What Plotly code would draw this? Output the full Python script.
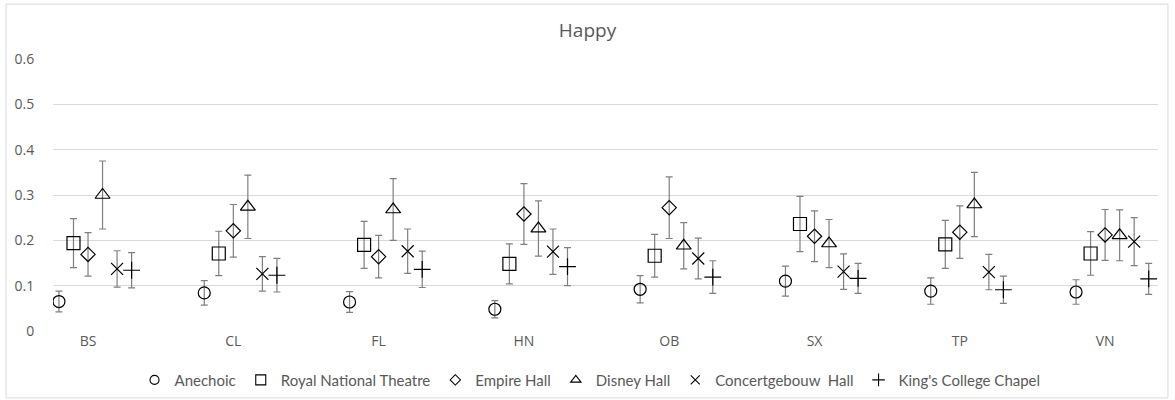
import plotly.graph_objects as go

categories = ["BS", "CL", "FL", "HN", "OB", "SX", "TP", "VN"]
series_names = ["Anechoic", "Royal National Theatre", "Empire Hall",
                "Disney Hall", "Concertgebouw  Hall", "King's College Chapel"]

anechoic = [0.065, 0.084, 0.064, 0.048, 0.092, 0.110, 0.088, 0.086]
anechoic_err = [0.023, 0.027, 0.023, 0.019, 0.030, 0.033, 0.029, 0.027]

royal = [0.194, 0.171, 0.190, 0.148, 0.166, 0.236, 0.191, 0.171]
royal_err = [0.054, 0.049, 0.052, 0.044, 0.047, 0.061, 0.053, 0.048]

empire = [0.169, 0.221, 0.164, 0.258, 0.272, 0.209, 0.218, 0.212]
empire_err = [0.048, 0.058, 0.047, 0.067, 0.068, 0.056, 0.058, 0.056]

disney = [0.300, 0.274, 0.268, 0.226, 0.188, 0.193, 0.279, 0.211]
disney_err = [0.075, 0.070, 0.068, 0.061, 0.051, 0.053, 0.071, 0.056]

concert = [0.137, 0.126, 0.176, 0.175, 0.160, 0.131, 0.130, 0.197]
concert_err = [0.040, 0.038, 0.049, 0.050, 0.045, 0.039, 0.039, 0.053]

kings = [0.134, 0.123, 0.136, 0.142, 0.119, 0.116, 0.091, 0.115]
kings_err = [0.039, 0.037, 0.040, 0.042, 0.036, 0.033, 0.030, 0.034]

y_ticks = [0, 0.1, 0.2, 0.3, 0.4, 0.5, 0.6]
y_tick_labels = ["0", "0.1", "0.2", "0.3", "0.4", "0.5", "0.6"]

values = [anechoic, royal, empire, disney, concert, kings]
errors = [anechoic_err, royal_err, empire_err, disney_err, concert_err, kings_err]
symbols = ["circle-open", "square-open", "diamond-open",
           "triangle-up-open", "x-thin-open", "cross-thin-open"]
sizes = [12, 13, 11, 13, 12, 12]
legend_sizes = [9, 10, 8, 9, 9, 9]
offsets = [-0.2, -0.1, 0.0, 0.1, 0.2, 0.3]

fig = go.Figure()
for name, vals, errs, sym, sz, off in zip(series_names, values, errors, symbols, sizes, offsets):
    xs = [i + off for i in range(len(categories))]
    fig.add_trace(go.Scatter(
        x=xs, y=vals, mode="markers", name=name, showlegend=False,
        marker=dict(symbol=sym, size=sz, color="black",
                    line=dict(color="black", width=1.2)),
        error_y=dict(type="data", array=errs, visible=True,
                     color="#7f7f7f", thickness=1.2, width=3.5),
    ))

# legend entries with smaller symbols, as in the reference legend
for name, sym, lsz in zip(series_names, symbols, legend_sizes):
    fig.add_trace(go.Scatter(
        x=[None], y=[None], mode="markers", name=name, showlegend=True,
        marker=dict(symbol=sym, size=lsz, color="black",
                    line=dict(color="black", width=1.1)),
    ))

fig.update_layout(
    template="none",
    width=1175, height=400,
    margin=dict(l=53, r=17, t=59, b=69, autoexpand=False),
    paper_bgcolor="white", plot_bgcolor="white",
    title=dict(text="Happy", x=0.5, xanchor="center", y=0.925, yanchor="middle",
               font=dict(family="Open Sans", size=19, color="#595959")),
    font=dict(family="Open Sans", color="#595959"),
    showlegend=True,
    legend=dict(orientation="h", x=0.486, xanchor="center", y=-0.12, yanchor="top",
                font=dict(family="Lato", size=15, color="#595959"),
                itemwidth=30, tracegroupgap=0, itemsizing="trace",
                bgcolor="rgba(0,0,0,0)"),
    xaxis=dict(range=[-0.241, 7.364], tickmode="array",
               tickvals=list(range(len(categories))), ticktext=categories,
               showgrid=False, zeroline=False, showline=False, ticks="",
               tickfont=dict(family="Open Sans", size=14, color="#595959")),
    yaxis=dict(range=[0, 0.6], tickmode="array", tickvals=y_ticks,
               ticktext=y_tick_labels, showgrid=True, gridcolor="#d9d9d9",
               gridwidth=1, zeroline=False, showline=False,
               ticks="outside", ticklen=15, tickcolor="rgba(0,0,0,0)",
               tickfont=dict(family="Open Sans", size=14, color="#595959")),
    shapes=[dict(type="rect", xref="paper", yref="paper",
                 x0=-0.0425, x1=1.009, y0=-0.246, y1=1.202,
                 line=dict(color="#d9d9d9", width=1), fillcolor="rgba(0,0,0,0)",
                 layer="below")],
)

fig.write_html("out.html",
               config={"displayModeBar": False},
               post_script="document.body.style.margin='0px';")
